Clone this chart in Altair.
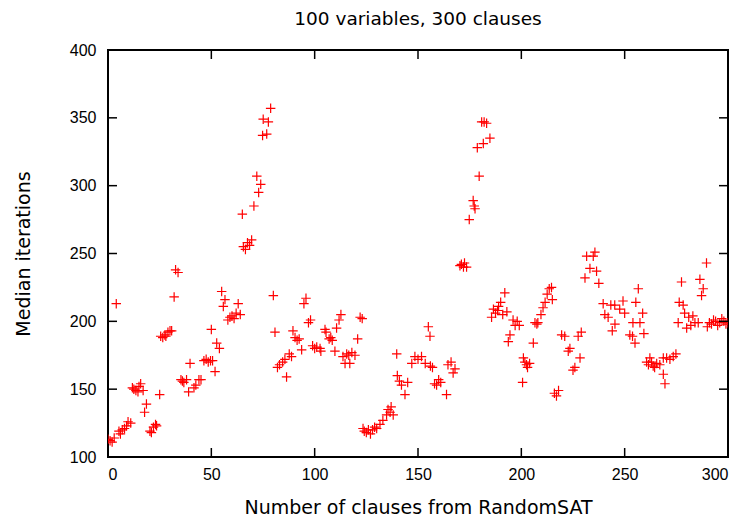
import altair as alt
import pandas as pd

# clause index
xs = [0, 1, 2, 3, 4, 5.3, 6, 6.9, 8, 9, 9.7, 11,
      11.8, 12.5, 13.5, 14.5, 15.8, 15, 17, 18.6, 17.7,
      20.3, 21, 22, 23, 23.5, 25,
      25.5, 26.5, 27.5, 28, 29, 30, 30.8, 32, 32.7, 33.9,
      35.3, 36, 36.7, 38, 39, 39.7, 41.6, 42.5, 44, 45,
      46.4, 47.5, 48.5, 49.6, 50, 50.6, 51.8, 52.6, 53.9,
      55, 55.8, 56.6, 58, 59, 60, 61, 62, 63, 64,
      65, 65.5, 66.5, 67.5, 68.5, 69.5,
      70.6, 72, 72.9, 73.9, 74.8, 76.8, 75.1, 77.6, 78.7,
      80, 80.8, 82, 83, 84.5, 85.6, 86.4, 87.7, 88.8,
      89.5, 90.5, 91.5, 92.5, 93.7, 94.8, 95.8, 97, 98,
      99, 100, 101, 102.6, 103, 105, 105.5, 107, 107.8, 108.5,
      109.8, 110.6, 111.8, 112.7, 113.7, 114.7, 115.5, 116.5, 117, 118, 119.5,
      120.8, 122, 123,
      123.4, 124, 125, 126, 127, 128, 129, 130, 131.6, 133,
      134.8, 135.5, 136.5, 137, 138, 139.7,
      140, 141, 142, 143.7, 145, 147, 148.5, 150, 151.7,
      155, 155.8, 153.5, 156, 157, 158, 159, 160, 161, 163.8,
      164.5, 166, 167, 167.9,
      170.3, 171, 172, 172.5, 173.5, 174.8, 176.7, 177.2, 177.6,
      178.7, 179.6, 181.6, 180.8, 182, 183.2, 184.8,
      185.6, 186.5, 187.5, 188.5, 189, 190, 191, 192, 193,
      193.7, 194.5, 196, 197, 198, 199,
      200.6, 201, 201.7, 202.5, 203, 204, 205.8, 206.6, 207.5, 208,
      209.5, 210.5, 211.5, 212.5, 213.5, 214.6, 215,
      216, 217, 218,
      219.5, 221, 222.7, 223.5, 225, 225.9, 227.5, 229, 228.4,
      230.8, 231.6, 233.2, 234.8, 235.6, 236.4, 237.5,
      239.6, 240.4, 242, 243.3, 244, 245.2, 245.3, 247.6, 249.2, 250,
      252.5, 253.8, 254, 255, 255.4, 256.6, 257.4, 258.7, 259.3,
      260.6, 261.5, 262.2, 263, 263.8, 264.5, 265.5, 267, 268.7, 268.7,
      269.5, 270.3, 271.9, 273.5, 274.8,
      275.9, 276.4, 277.5, 278.3, 279, 280, 281, 282, 283, 284, 285.6,
      286.4, 287.2, 288, 289.6,
      290, 291, 292, 293, 294, 295, 296, 297, 298, 299, 300]

# median iterations
ys = [113, 112, 111, 114, 213, 119, 117, 120, 121, 123, 126, 125,
      151, 150, 149, 148, 154, 152, 149, 139, 133,
      119, 118, 122, 124, 123, 146,
      189, 188, 190, 189, 192, 193, 193, 218, 238, 236,
      157, 156, 155, 157, 148, 169, 151, 153, 157, 157,
      171, 172, 170, 171, 194, 171, 163, 184, 180,
      222, 211, 216, 201, 203, 204, 202, 206, 213, 205,
      279, 255, 253, 258, 256, 260,
      285, 307, 295, 301, 337, 338, 349, 347, 357,
      219, 192, 166, 168, 170, 172, 159, 176, 174,
      193, 188, 186, 187, 179, 213, 217, 199, 201,
      182, 180, 181, 180, 178, 194, 192, 187, 188, 186,
      178, 195, 201, 205, 174, 169, 176, 175, 169, 177, 175,
      187, 203, 202,
      121, 119, 118, 120, 117, 120, 122, 121, 124, 127,
      131, 135, 133, 137, 131, 176,
      160, 156, 153, 146, 155, 169, 174, 172, 174,
      196, 189, 169, 167, 166, 154, 153, 157, 155, 146,
      168, 170, 162, 165,
      241, 242, 240, 243, 240, 275, 289, 285, 283,
      328, 307, 331, 347, 347, 346, 335,
      203, 209, 206, 208, 211, 214, 205, 221, 207,
      185, 190, 201, 197, 200, 197,
      155, 173, 170, 168, 166, 169, 184, 199, 198, 199,
      205, 210, 214, 220, 224, 225, 216,
      147, 145, 149,
      190, 189, 178, 180, 164, 166, 189, 192, 173,
      232, 248, 239, 248, 251, 237, 228,
      213, 205, 203, 212, 193, 212, 198, 209, 215, 206,
      190, 189, 199, 184, 214, 224, 199, 206, 191,
      170, 168, 173, 170, 167, 166, 169, 168, 173, 161,
      154, 173, 172, 174, 176,
      199, 214, 229, 212, 206, 195, 203, 197, 204, 199, 199,
      231, 219, 224, 243,
      196, 199, 198, 201, 200, 197, 199, 202, 200, 198, 199]

x_ticks = [0, 50, 100, 150, 200, 250, 300]
y_ticks = [100, 150, 200, 250, 300, 350, 400]

W, H = 620, 407
FONT = "Liberation Sans"
TFONT = "DejaVu Sans"

df = pd.DataFrame({"x": xs, "y": ys})
xt = pd.DataFrame({"t": x_ticks})
yt = pd.DataFrame({"t": y_ticks})

xscale = alt.Scale(domain=[0, 300], nice=False, zero=False)
yscale = alt.Scale(domain=[100, 400], nice=False, zero=False)

plus = "M-1,0L1,0M0,-1L0,1"

points = alt.Chart(df).mark_point(
    shape=plus, filled=False, size=90, stroke="#ff0000", strokeWidth=1.2, opacity=1, clip=True
).encode(
    x=alt.X("x:Q", scale=xscale, axis=alt.Axis(
        title="Number of clauses from RandomSAT", values=x_ticks, ticks=False,
        domain=False, grid=False, labelPadding=9, titlePadding=16, format="d",
        labelFont=FONT, labelFontSize=16, labelColor="black",
        titleFont=TFONT, titleFontSize=19, titleColor="black", titleFontWeight="normal")),
    y=alt.Y("y:Q", scale=yscale, axis=alt.Axis(
        title="Median iterations", values=y_ticks, ticks=False,
        domain=False, grid=False, labelPadding=12, titlePadding=36, format="d",
        labelFont=FONT, labelFontSize=16, labelColor="black",
        titleFont=TFONT, titleFontSize=19, titleColor="black", titleFontWeight="normal")),
)

tick_style = dict(color="black", strokeWidth=1.5)
xb = alt.Chart(xt).mark_rule(**tick_style).encode(
    x=alt.X("t:Q", scale=xscale), y=alt.value(H), y2=alt.value(H - 9))
xtop = alt.Chart(xt).mark_rule(**tick_style).encode(
    x=alt.X("t:Q", scale=xscale), y=alt.value(0), y2=alt.value(9))
yl = alt.Chart(yt).mark_rule(**tick_style).encode(
    y=alt.Y("t:Q", scale=yscale), x=alt.value(0), x2=alt.value(9))
yr = alt.Chart(yt).mark_rule(**tick_style).encode(
    y=alt.Y("t:Q", scale=yscale), x=alt.value(W), x2=alt.value(W - 9))

chart = alt.layer(points, xb, xtop, yl, yr).properties(
    width=W, height=H,
    background="white",
    title=alt.TitleParams("100 variables, 300 clauses", fontSize=18.5, font=TFONT,
                          fontWeight="normal", color="black", offset=14),
    autosize=alt.AutoSizeParams(type="none"),
    padding={"left": 100, "top": 42, "right": 15, "bottom": 66},
).configure_view(
    stroke="black", strokeWidth=2
)

chart.save("out.html", embed_options={"renderer": "svg", "actions": False})
